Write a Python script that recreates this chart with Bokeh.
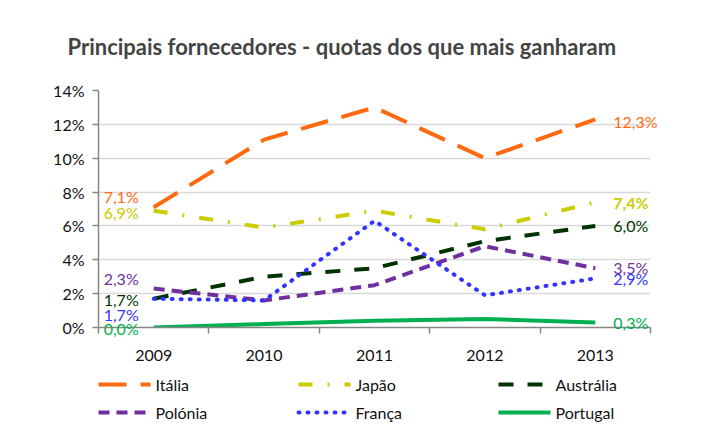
from bokeh.plotting import figure
from bokeh.models import ColumnDataSource, FixedTicker, PrintfTickFormatter, Range1d
from bokeh.core.properties import value
from bokeh.embed import file_html
from bokeh.resources import INLINE

# ---- data ----
years = [2009, 2010, 2011, 2012, 2013]
year_labels = ["2009", "2010", "2011", "2012", "2013"]
italia = [7.1, 11.1, 13.0, 10.0, 12.3]
japao = [6.9, 5.9, 6.9, 5.8, 7.4]
australia = [1.7, 3.0, 3.5, 5.1, 6.0]
polonia = [2.3, 1.6, 2.5, 4.8, 3.5]
franca = [1.7, 1.6, 6.3, 1.9, 2.9]
portugal = [0.0, 0.2, 0.4, 0.5, 0.3]
y_ticks = [0, 2, 4, 6, 8, 10, 12, 14]

names = ["Itália", "Japão", "Austrália", "Polónia", "França", "Portugal"]
series = [italia, japao, australia, polonia, franca, portugal]

# ---- styles ----
FONT = "Lato"
colors = ["#FF6A10", "#CCCC00", "#003300", "#7030A0", "#3333FF", "#00B050"]
dashes = ["28 14", "14 15 2 15", "15 14", "11 7", "1 8", "solid"]
caps = ["butt", "butt", "butt", "butt", "round", "butt"]
widths = [4, 4, 4, 4, 4, 4]
left_dy = [-11, 2, 1, -10, 16, 1]
right_dy = [2, 0, 0, -1, 0, 0]
right_bold = [False, True, False, False, False, False]

FRAME_W, FRAME_H = 552, 237
X0, X1, Y0, Y1 = 2008.5, 2013.5, 0, 14
SX = FRAME_W / (X1 - X0)   # pixels per x unit
SY = FRAME_H / (Y1 - Y0)   # pixels per y unit
# legend layout in pixels from the frame's bottom-left corner
leg_col_px = [0, 200, 400, 0, 200, 400]
leg_row_px = [57, 57, 57, 85, 85, 85]
SWATCH = 52
TEXT_DX = 57

p = figure(frame_width=FRAME_W, frame_height=FRAME_H, output_backend="svg",
           toolbar_location=None,
           x_range=Range1d(X0, X1), y_range=Range1d(Y0, Y1),
           min_border_left=98, min_border_right=53, min_border_top=87,
           min_border_bottom=104)
p.outline_line_color = None
p.background_fill_color = "white"
p.border_fill_color = "white"

p.title.text = "Principais fornecedores - quotas dos que mais ganharam"
p.title.text_font = FONT
p.title.text_font_style = "bold"
p.title.text_font_size = "22px"
p.title.align = "left"
p.title.offset = -31
p.title.standoff = 61

# axes
p.xaxis.ticker = FixedTicker(ticks=years,
                             minor_ticks=[2008.5, 2009.5, 2010.5, 2011.5, 2012.5, 2013.5])
p.xaxis.major_label_overrides = {y: l for y, l in zip(years, year_labels)}
p.xaxis.major_tick_line_color = None
p.xaxis.minor_tick_line_color = "#868686"
p.xaxis.minor_tick_out = 6
p.xaxis.minor_tick_in = 0
p.xaxis.minor_tick_line_width = 1.5
p.xaxis.major_label_standoff = 16

p.yaxis.ticker = FixedTicker(ticks=y_ticks, minor_ticks=[])
p.yaxis.formatter = PrintfTickFormatter(format="%d%%")
p.yaxis.major_tick_out = 6
p.yaxis.major_tick_in = 0
p.yaxis.major_tick_line_color = "#868686"
p.yaxis.major_tick_line_width = 1.5
p.yaxis.major_label_standoff = 8

for ax in (p.xaxis, p.yaxis):
    ax.axis_line_color = "#868686"
    ax.axis_line_width = 1.5
    ax.major_label_text_font = FONT
    ax.major_label_text_font_size = "16px"
    ax.major_label_text_color = "#111111"

p.xgrid.grid_line_color = None
p.ygrid.grid_line_color = "#D9D9D9"
p.ygrid.grid_line_width = 1.5

fmt = lambda v: f"{v:.1f}%".replace(".", ",")

for i, (n, s) in enumerate(zip(names, series)):
    src = ColumnDataSource(dict(x=years, y=s))
    p.line("x", "y", source=src, line_color=colors[i], line_width=widths[i],
           line_dash=dashes[i], line_cap=caps[i])

    # data labels at first and last point
    p.text(x=[years[0]], y=[s[0]], text=[fmt(s[0])], text_align="right",
           text_baseline="middle", x_offset=-15, y_offset=left_dy[i],
           text_color=colors[i], text_font=value(FONT), text_font_size="16px",
           level="overlay")
    p.text(x=[years[-1]], y=[s[-1]], text=[fmt(s[-1])], text_align="left",
           text_baseline="middle", x_offset=18, y_offset=right_dy[i],
           text_color=colors[i], text_font=value(FONT), text_font_size="16px",
           text_font_style="bold" if right_bold[i] else "normal",
           level="overlay")

    # legend entry (below the plot area)
    lx0 = X0 + leg_col_px[i] / SX
    lx1 = X0 + (leg_col_px[i] + SWATCH) / SX
    ly = Y0 - leg_row_px[i] / SY
    p.segment(x0=[lx0], y0=[ly], x1=[lx1], y1=[ly], line_color=colors[i],
              line_width=widths[i], line_dash=dashes[i], line_cap=caps[i],
              level="overlay")
    p.text(x=[X0], y=[Y0], text=[n], text_align="left", text_baseline="middle",
           x_offset=leg_col_px[i] + TEXT_DX, y_offset=leg_row_px[i],
           text_color="#111111", text_font=value(FONT), text_font_size="16px",
           level="overlay")

open("out.html", "w").write(file_html(p, INLINE))
